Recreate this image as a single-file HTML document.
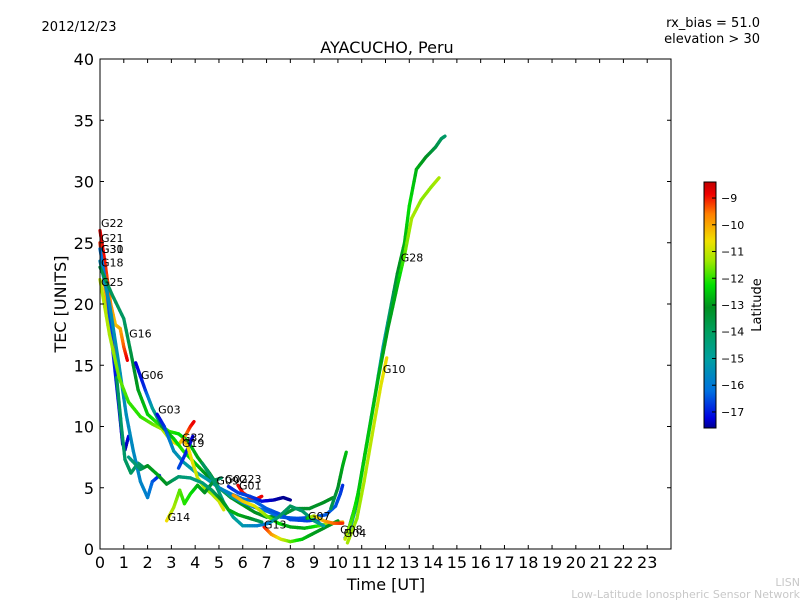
<!DOCTYPE html>
<html><head><meta charset="utf-8"><style>
body{margin:0;background:#fff;}
svg{display:block;font-family:"DejaVu Sans","Liberation Sans",sans-serif;}
</style></head><body>
<svg id="chart" width="800" height="600" viewBox="0 0 800 600">
<defs>
<linearGradient id="cbg" x1="0" y1="1" x2="0" y2="0">
<stop offset="0" stop-color="#000090"/>
<stop offset="0.04" stop-color="#0000e0"/>
<stop offset="0.15" stop-color="#0070e0"/>
<stop offset="0.28" stop-color="#00a0a0"/>
<stop offset="0.39" stop-color="#00a060"/>
<stop offset="0.49" stop-color="#009020"/>
<stop offset="0.58" stop-color="#00e000"/>
<stop offset="0.68" stop-color="#a0e800"/>
<stop offset="0.76" stop-color="#f0e000"/>
<stop offset="0.87" stop-color="#ff8000"/>
<stop offset="0.95" stop-color="#f00000"/>
<stop offset="1" stop-color="#c00000"/>
</linearGradient>
</defs>
<text x="79" y="31" font-size="13" text-anchor="middle">2012/12/23</text>
<text x="760" y="27" font-size="13" text-anchor="end">rx_bias = 51.0</text>
<text x="760" y="43" font-size="13" text-anchor="end">elevation &gt; 30</text>
<text x="387" y="53" font-size="16" text-anchor="middle">AYACUCHO, Peru</text>
<g id="plot"></g>
<rect x="100" y="59" width="571" height="490" fill="none" stroke="#000" stroke-width="1"/>
<g id="axes"></g>
<text x="386" y="590" font-size="16" text-anchor="middle">Time [UT]</text>
<text x="66" y="304" font-size="16" text-anchor="middle" transform="rotate(-90 66 304)">TEC [UNITS]</text>
<rect x="704" y="182" width="12" height="246" fill="url(#cbg)" stroke="#000" stroke-width="1"/>
<g id="cbaxis"></g>
<text x="761" y="305" font-size="13" text-anchor="middle" transform="rotate(-90 761 305)">Latitude</text>
<text x="800" y="586" font-size="11" fill="#c8c8c8" text-anchor="end">LISN</text>
<text x="800" y="598" font-size="11" fill="#c8c8c8" text-anchor="end">Low-Latitude Ionospheric Sensor Network</text>
</svg>
<script>
const xTicks=[0,1,2,3,4,5,6,7,8,9,10,11,12,13,14,15,16,17,18,19,20,21,22,23];
const yTicks=[0,5,10,15,20,25,30,35,40];
const cbTicks=[-9,-10,-11,-12,-13,-14,-15,-16,-17];
const satNames=["G22","G21","G30","G31","G18","G25","G16","G06","G03","G32","G19","G14","G09","G02","G23","G01","G13","G07","G08","G04","G28","G10","GX1","GX2","GX3","GX4"];
const labelPos=[[0,26.6],[0,25.4],[0,24.5],[0,24.5],[0,23.4],[0,21.8],[1.18,17.6],[1.68,14.2],[2.4,11.4],[3.4,9.1],[3.4,8.65],[2.8,2.6],[4.85,5.6],[5.2,5.7],[5.8,5.7],[5.8,5.2],[6.85,2.0],[8.7,2.7],[10.05,1.6],[10.2,1.3],[12.6,23.8],[11.85,14.7]];
const series=[
[[0,26,-8.8],[0.2,23.5,-9.2],[0.45,20,-10.2],[0.65,18.3,-10.8],[0.85,18,-10.6],[1,16.5,-9.8],[1.15,15.4,-9]],
[[0,25,-9.3],[0.2,21.5,-10.3],[0.4,18.5,-10.8],[0.6,16.5,-10],[0.7,15.4,-9.2]],
[[0,24.5,-16],[0.3,21,-16.3],[0.55,16,-16.8],[0.8,11.5,-17.2],[0.95,8.6,-17.4],[1.05,8.1,-17.5],[1.2,9.2,-17.2]],
[[0.7,14,-14],[0.9,10,-14.2],[1.05,7.3,-14.2],[1.3,6.2,-14],[1.6,7,-14.2],[1.8,6.7,-14]],
[[0,23.5,-15.5],[0.4,20,-15.5],[0.8,15,-15.3],[1.1,11,-15.5],[1.4,8,-15.6],[1.7,5.5,-15.7],[2,4.2,-15.8],[2.2,5.5,-16.3],[2.5,6,-17]],
[[0,22,-11.6],[0.4,17.5,-11.8],[0.8,14,-12.2],[1.2,12,-12.5],[1.7,10.8,-12.6],[2.2,10.2,-12.3],[2.6,9.8,-11.9],[3,8.8,-11.3],[3.3,8.5,-11],[3.6,9.3,-10.3],[3.8,10,-9.4],[3.95,10.4,-9]],
[[0,23,-13.8],[0.5,20.8,-14],[1,18.8,-14.1],[1.3,16,-13.8],[1.6,13,-13.4],[2,11,-13],[2.4,10.3,-12.6],[2.9,9.6,-12.5],[3.3,9.4,-12.8],[3.7,8.8,-13],[4.1,7.5,-13.3],[4.6,6.2,-13.5],[5,5,-13.6],[5.5,4.2,-13.6],[6,3.6,-13.4],[6.5,3,-13.5],[7,2.6,-13.6],[7.6,2.7,-13.6],[8.2,3.3,-13.7],[8.8,3.3,-13.6],[9.4,3.8,-13.5],[9.8,4.2,-13.5]],
[[1.5,15.2,-17.3],[1.9,13,-16.8],[2.2,11.5,-15],[2.6,10,-13.8],[3.1,9,-13],[3.5,8,-12.6],[4,7,-13],[4.5,6,-13.5],[5,5,-14],[5.5,4.3,-14.8],[6,3.8,-15.5],[6.5,3.4,-16],[7,3.1,-16.2],[7.6,2.6,-16.3],[8.3,2.5,-16.5],[9,2.6,-16.5],[9.5,2.8,-16.4],[9.9,3.5,-16.4],[10.1,4.5,-16.6],[10.2,5.2,-16.8]],
[[2.4,11,-17.2],[2.7,10,-16.8],[2.9,9,-16],[3.1,8,-15.5],[3.5,7.1,-15.2],[4,6.3,-15],[4.5,5.7,-15.2],[5,5,-15.5],[5.5,4.5,-15.8],[6,4.1,-16],[6.5,3.9,-16.2],[7,3.3,-16.4],[7.5,2.9,-16.5],[8,2.4,-16.5],[8.7,2.3,-16.6],[9.3,2.4,-16.7]],
[[3.3,6.6,-16.5],[3.55,7.6,-16.8],[3.8,8.7,-17.1],[3.9,9.2,-17.3]],
[[3.5,9,-10.2],[3.7,8.3,-11],[3.9,7,-11.2],[4.1,5.8,-11.5],[4.4,5,-11.8],[4.7,4.5,-12],[5,3.9,-11.5],[5.2,3.2,-11.3]],
[[2.8,2.3,-11],[3.1,3.4,-11.8],[3.35,4.8,-12.3],[3.55,3.7,-12.6],[3.8,4.5,-12.7],[4.1,5.2,-13.2],[4.4,4.6,-13.5],[4.8,5.6,-13.7],[5.1,5.8,-14.2]],
[[5.8,5.2,-8.9],[6,4.6,-9.2],[6.3,4.2,-9.5],[6.6,4.1,-9.3],[6.8,4.3,-9]],
[[5.4,5.1,-17],[5.8,4.6,-16.6],[6.3,4.3,-16.6],[6.8,3.9,-17],[7.3,4,-17.4],[7.7,4.2,-17.6],[8,4,-17.6]],
[[5.6,4.4,-10.3],[6,3.9,-10.8],[6.5,3.5,-11.2],[7,2.7,-12],[7.5,2.1,-12.8],[8,1.8,-13.3],[8.6,1.7,-13.3],[9.2,1.9,-12.6],[9.7,2.1,-11.5],[10.2,2.2,-10.5]],
[[6.9,1.8,-9.1],[7.2,1.2,-10.2],[7.6,0.8,-11.3],[8,0.6,-12.2],[8.5,0.8,-13],[9,1.3,-13.4],[9.5,1.8,-13.5],[10,2.3,-13.4]],
[[4.3,7,-14],[4.8,5.5,-14.3],[5.2,3.8,-14.5],[5.6,2.6,-14.8],[6,1.9,-15.2],[6.6,1.9,-15.8],[7.1,2.1,-16],[7.5,2.6,-14.3],[8,3.5,-14],[8.5,3.1,-14.2],[9,2.3,-14.5],[9.4,1.9,-15]],
[[8.7,2.5,-13.6],[9,2.7,-11.5],[9.4,2.3,-10.6],[9.8,2.1,-10],[10.2,2.1,-9.4]],
[[10.3,0.9,-16],[10.5,1.6,-15.4],[10.7,3,-14.6],[10.9,4.5,-14]],
[[10.4,1.3,-14],[10.8,4,-13.5],[11.2,8.5,-13.6],[11.6,13,-14.4],[11.9,16.5,-15.2],[12.2,19.5,-14.2],[12.5,22.5,-13.6],[12.8,25,-13.2],[13,28,-12.8],[13.3,31,-13.2],[13.7,32,-13.5],[14.1,32.8,-13.8],[14.35,33.5,-14],[14.5,33.7,-14.2]],
[[10.4,0.5,-11.8],[10.8,2.5,-12],[11.1,5.5,-11.8],[11.5,10,-11.6],[11.8,13.3,-11.3],[12.05,15.6,-11]],
[[10.3,0.8,-11.5],[10.6,2.5,-12.5],[10.9,5,-13],[11.3,9.5,-13],[11.7,14,-13.2],[12.1,18,-13.4],[12.5,21.5,-13.2],[12.8,24,-12.3],[13.1,27,-11.8],[13.5,28.5,-12],[13.9,29.5,-12],[14.25,30.3,-11.8]],
[[9.7,3.3,-14],[10,5,-13.6],[10.2,6.8,-13.3],[10.35,7.9,-13.1]],
[[1.2,7.5,-14.6],[1.7,6.5,-14.2],[2,6.8,-13.5],[2.4,6.1,-13.3],[2.8,5.3,-13.5],[3.3,5.9,-14.3],[3.8,5.8,-14.5],[4.3,5.4,-14.5],[4.7,4.8,-14.2],[5.1,4,-13.5],[5.4,3.2,-13.3],[5.8,2.8,-13.2],[6.3,2.5,-13.5],[6.8,2.2,-14]]
];
const cmapStops=[[-17.6,[0,0,144]],[-17.2,[0,0,224]],[-16.2,[0,112,224]],[-15,[0,160,160]],[-14,[0,150,90]],[-13.5,[0,144,32]],[-12.8,[0,224,0]],[-11.9,[160,232,0]],[-11.1,[240,224,0]],[-10.1,[255,128,0]],[-9.1,[240,0,0]],[-8.4,[192,0,0]]];
const X0=100,X1=671,Y0=549,Y1=59;
function xs(t){return X0+(t/24)*(X1-X0);}
function ys(v){return Y0-(v/40)*(Y0-Y1);}
function cb(l){return 182+((-8.4-l)/9.2)*246;}
function cmap(l){
 if(l<=cmapStops[0][0])return "rgb("+cmapStops[0][1]+")";
 for(let i=1;i<cmapStops.length;i++){
  if(l<=cmapStops[i][0]){const a=cmapStops[i-1],b=cmapStops[i];const f=(l-a[0])/(b[0]-a[0]);
   return "rgb("+a[1].map((c,k)=>Math.round(c+(b[1][k]-c)*f)).join(",")+")";}
 }
 return "rgb("+cmapStops[cmapStops.length-1][1]+")";
}
const NS="http://www.w3.org/2000/svg";
const plot=document.getElementById("plot");
series.forEach((s,si)=>{
 const g=document.createElementNS(NS,"g");
 
 
 for(let i=0;i<s.length-1;i++){
  const a=s[i],b=s[i+1];
  const n=6;
  for(let k=0;k<n;k++){
   const f0=k/n,f1=(k+1)/n;
   const ln=document.createElementNS(NS,"line");
   
   
   ln.setAttribute("x1",xs(a[0]+(b[0]-a[0])*f0));ln.setAttribute("y1",ys(a[1]+(b[1]-a[1])*f0));
   ln.setAttribute("x2",xs(a[0]+(b[0]-a[0])*f1));ln.setAttribute("y2",ys(a[1]+(b[1]-a[1])*f1));
   ln.setAttribute("stroke",cmap(a[2]+(b[2]-a[2])*(f0+f1)/2));
   ln.setAttribute("stroke-width","3.3");ln.setAttribute("stroke-linecap","round");
   g.appendChild(ln);
  }
 }
 plot.appendChild(g);
});
labelPos.forEach((p,i)=>{
 const t=document.createElementNS(NS,"text");
 
 
 t.setAttribute("x",xs(p[0])+1);t.setAttribute("y",ys(p[1])+4);
 t.setAttribute("font-size","11");t.textContent=satNames[i];
 plot.appendChild(t);
});
const axes=document.getElementById("axes");
xTicks.forEach(v=>{
 [[Y0,Y0-4],[Y1,Y1+4]].forEach(([a,b])=>{
  const l=document.createElementNS(NS,"line");
  
  
  l.setAttribute("x1",xs(v));l.setAttribute("x2",xs(v));l.setAttribute("y1",a);l.setAttribute("y2",b);l.setAttribute("stroke","#000");
  axes.appendChild(l);
 });
 const t=document.createElementNS(NS,"text");
 
 
 t.setAttribute("x",xs(v));t.setAttribute("y",568);t.setAttribute("font-size","16");t.setAttribute("text-anchor","middle");
 t.textContent=v;axes.appendChild(t);
});
yTicks.forEach(v=>{
 [[X0,X0+4],[X1,X1-4]].forEach(([a,b])=>{
  const l=document.createElementNS(NS,"line");
  
  
  l.setAttribute("y1",ys(v));l.setAttribute("y2",ys(v));l.setAttribute("x1",a);l.setAttribute("x2",b);l.setAttribute("stroke","#000");
  axes.appendChild(l);
 });
 const t=document.createElementNS(NS,"text");
 
 
 t.setAttribute("x",94);t.setAttribute("y",ys(v)+6);t.setAttribute("font-size","16");t.setAttribute("text-anchor","end");
 t.textContent=v;axes.appendChild(t);
});
const cba=document.getElementById("cbaxis");
cbTicks.forEach(v=>{
 const l=document.createElementNS(NS,"line");
 
 
 l.setAttribute("x1",712);l.setAttribute("x2",716);l.setAttribute("y1",cb(v));l.setAttribute("y2",cb(v));l.setAttribute("stroke","#000");
 cba.appendChild(l);
 const t=document.createElementNS(NS,"text");
 
 
 t.setAttribute("x",721);t.setAttribute("y",cb(v)+4);t.setAttribute("font-size","11");
 t.textContent="\u2212"+Math.abs(v);cba.appendChild(t);
});
</script>
</body></html>
